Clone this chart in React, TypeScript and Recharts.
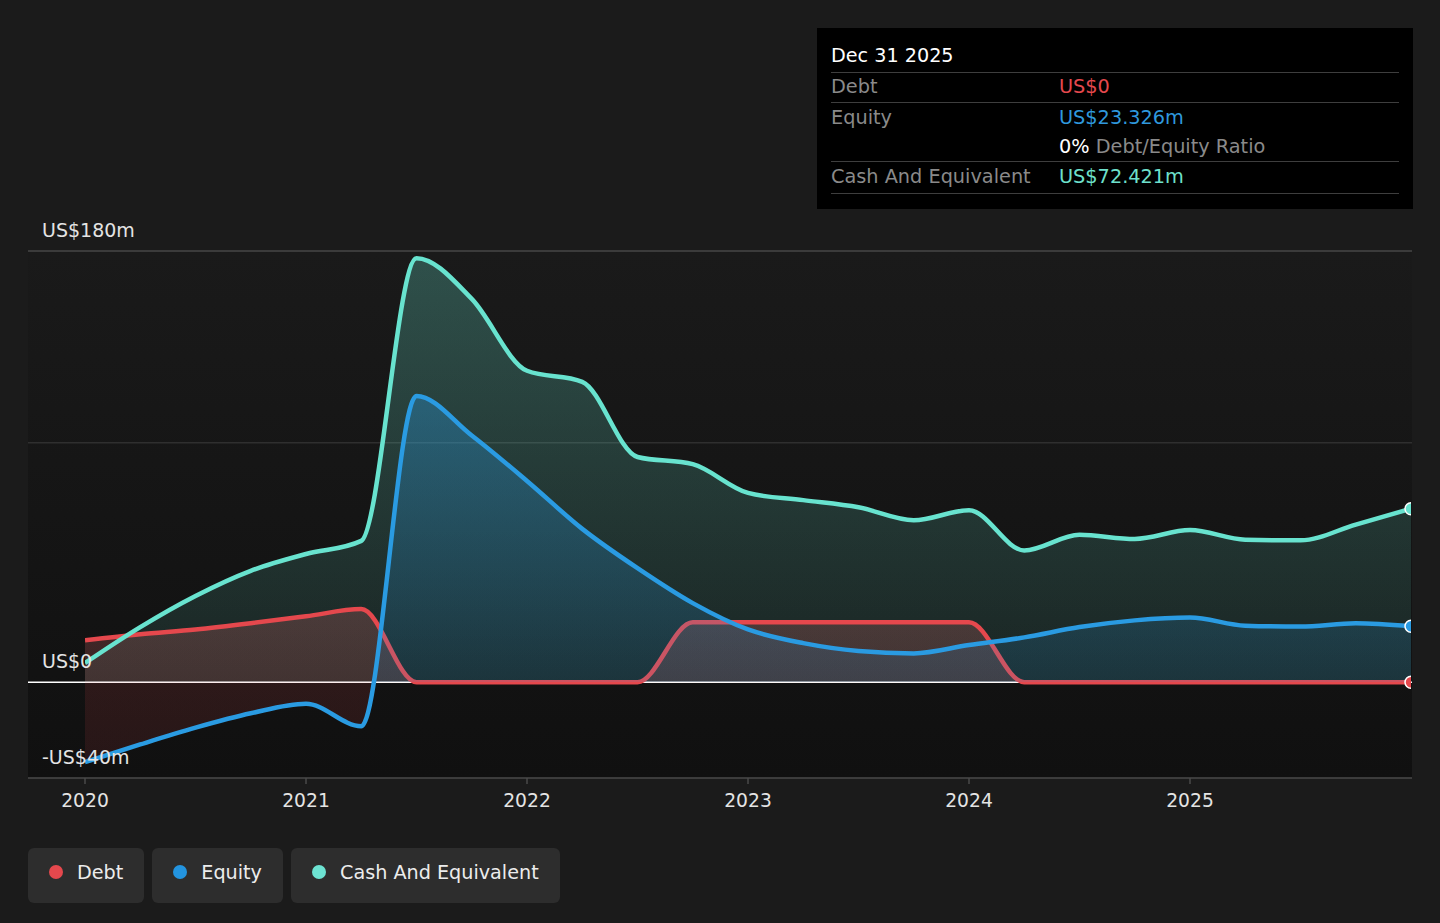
import {
  ComposedChart,
  Area,
  Line,
  XAxis,
  YAxis,
  ReferenceLine,
  CartesianGrid,
} from 'recharts';

// ── Data (US$ m, quarter ends) ────────────────────────────────────────────────
const periods = [
  2020, 2020.25, 2020.5, 2020.75,
  2021, 2021.25, 2021.5, 2021.75,
  2022, 2022.25, 2022.5, 2022.75,
  2023, 2023.25, 2023.5, 2023.75,
  2024, 2024.25, 2024.5, 2024.75,
  2025, 2025.25, 2025.5, 2025.75,
  2026,
];
const debt = [
  17.5, 20, 22, 24.6,
  27.5, 30.5, 0, 0,
  0, 0, 0, 25,
  25, 25, 25, 25,
  25, 0, 0, 0,
  0, 0, 0, 0,
  0,
];
const equity = [
  -33.4, -26, -19, -13,
  -9, -18.4, 119.5, 103,
  84, 64, 47.6, 33,
  22, 16.3, 13, 12,
  15.5, 18.7, 23, 25.8,
  27, 23.6, 23.2, 24.6,
  23.326,
];
const cash = [
  8, 23, 36, 46.5,
  53.5, 59, 177, 160,
  130, 125.4, 94, 91,
  79, 76, 73, 67.6,
  71.8, 55, 61.5, 59.8,
  63.5, 59.5, 59.2, 65.8,
  72.421,
];

const yearTicks = [2020, 2021, 2022, 2023, 2024, 2025];
const labelTicks = [-40, 0, 180];
const gridValues = [100, 180];

const legendItems = [
  { name: 'Debt', color: '#e5484d' },
  { name: 'Equity', color: '#2394df' },
  { name: 'Cash And Equivalent', color: '#6de3d2' },
];

const data = periods.map((t, i) => ({
  t,
  debt: debt[i],
  equity: equity[i],
  cash: cash[i],
}));

// ── Constants ─────────────────────────────────────────────────────────────────
const W = 1440;
const H = 923;
const PLOT_LEFT = 28;
const PLOT_RIGHT = 1412;
const PLOT_TOP = 251;
const PLOT_BOTTOM = 778;
const X_AXIS_H = 30;
const Y_MIN = -40;
const Y_MAX = 180;

const FONT = '"DejaVu Sans", sans-serif';
const BG = '#1b1b1b';
const TEXT = '#e4e4e4';
const MUTED = '#8a8a8a';
const AXIS = '#4a4a4a';
const RED = '#e5484d';
const BLUE = '#2a9be2';
const TEAL = '#68e3cf';
const LINE_W = 4.5;

const ZERO_FRAC = Y_MAX / (Y_MAX - Y_MIN);

const fmt = (v: number) =>
  v === 0 ? 'US$0' : v < 0 ? `-US$${-v}m` : `US$${v}m`;

// ── Pieces ────────────────────────────────────────────────────────────────────
function XTick({ x, y, payload }: any) {
  return (
    <text
      x={x}
      y={y}
      dy={22.5}
      textAnchor="middle"
      fill={TEXT}
      fontSize={18.7}
      fontFamily={FONT}
    >
      {payload.value}
    </text>
  );
}

function YLabel({ viewBox, text }: any) {
  return (
    <text
      x={viewBox.x + 14}
      y={viewBox.y - 14.5}
      fill={TEXT}
      fontSize={19}
      fontFamily={FONT}
    >
      {text}
    </text>
  );
}

function makeEndDot(color: string) {
  return function EndDot({ cx, cy, index }: any) {
    if (index !== data.length - 1 || cx == null || cy == null) {
      return <g key={`d-${index}`} />;
    }
    return (
      <circle
        key={`d-${index}`}
        cx={cx}
        cy={cy}
        r={6}
        fill={color}
        stroke="#ffffff"
        strokeWidth={1.5}
      />
    );
  };
}

function InfoBox() {
  const row = (h: number, border: boolean): React.CSSProperties => ({
    display: 'flex',
    height: h,
    lineHeight: `${h}px`,
    borderBottom: border ? '1.5px solid #3e3e3e' : 'none',
  });
  const label: React.CSSProperties = { width: 228, color: MUTED };
  return (
    <div
      style={{
        position: 'absolute',
        left: 817,
        top: 28,
        width: 596,
        height: 181,
        background: '#000',
        boxSizing: 'border-box',
        padding: '13px 14px',
        fontFamily: FONT,
        fontSize: 19.3,
      }}
    >
      <div
        style={{
          height: 31,
          lineHeight: '30px',
          color: '#fff',
          borderBottom: '1.5px solid #3e3e3e',
          fontSize: 19.2,
        }}
      >
        Dec 31 2025
      </div>
      <div style={row(28.5, true)}>
        <span style={label}>Debt</span>
        <span style={{ color: RED }}>US$0</span>
      </div>
      <div style={row(30, false)}>
        <span style={label}>Equity</span>
        <span style={{ color: '#2f98dd' }}>US$23.326m</span>
      </div>
      <div style={row(28.5, true)}>
        <span style={label} />
        <span style={{ color: '#fff' }}>
          0% <span style={{ color: MUTED }}>Debt/Equity Ratio</span>
        </span>
      </div>
      <div style={row(30.5, true)}>
        <span style={label}>Cash And Equivalent</span>
        <span style={{ color: '#6ee0cc' }}>US$72.421m</span>
      </div>
    </div>
  );
}

function LegendChips() {
  return (
    <div
      style={{
        position: 'absolute',
        left: 28,
        top: 848,
        display: 'flex',
        gap: 8,
        fontFamily: FONT,
        fontSize: 19.2,
      }}
    >
      {legendItems.map(item => (
        <div
          key={item.name}
          style={{
            height: 55,
            boxSizing: 'border-box',
            padding: '0 21px 7px',
            display: 'flex',
            alignItems: 'center',
            background: '#2d2d2d',
            borderRadius: 6,
            color: '#ececec',
          }}
        >
          <span
            style={{
              width: 14,
              height: 14,
              borderRadius: '50%',
              background: item.color,
              marginRight: 14,
            }}
          />
          {item.name}
        </div>
      ))}
    </div>
  );
}

// ── Chart ─────────────────────────────────────────────────────────────────────
export default function App() {
  return (
    <div
      style={{
        position: 'absolute',
        left: 0,
        top: 0,
        width: W,
        height: H,
        background: BG,
        overflow: 'hidden',
      }}
    >
      <ComposedChart
        width={W}
        height={H}
        data={data}
        margin={{
          top: PLOT_TOP,
          right: W - PLOT_RIGHT,
          bottom: H - PLOT_BOTTOM - X_AXIS_H,
          left: PLOT_LEFT,
        }}
      >
        <defs>
          <linearGradient id="plotBg" x1="0" y1="0" x2="0" y2="1">
            <stop offset="0%" stopColor="#1a1a1a" />
            <stop offset="100%" stopColor="#101010" />
          </linearGradient>
          <linearGradient id="cashFill" x1="0" y1="0" x2="0" y2="1">
            <stop offset="0%" stopColor={TEAL} stopOpacity={0.27} />
            <stop offset="100%" stopColor={TEAL} stopOpacity={0.09} />
          </linearGradient>
          <linearGradient
            id="equityFill"
            gradientUnits="userSpaceOnUse"
            x1="0"
            y1={PLOT_TOP}
            x2="0"
            y2={PLOT_BOTTOM}
          >
            <stop offset="0%" stopColor={BLUE} stopOpacity={0.45} />
            <stop offset={ZERO_FRAC} stopColor={BLUE} stopOpacity={0.13} />
            <stop offset={ZERO_FRAC} stopColor={RED} stopOpacity={0.13} />
            <stop offset="100%" stopColor={RED} stopOpacity={0.1} />
          </linearGradient>
          <linearGradient id="debtFill" x1="0" y1="0" x2="0" y2="1">
            <stop offset="0%" stopColor="#e26c6e" stopOpacity={0.23} />
            <stop offset="100%" stopColor="#e26c6e" stopOpacity={0.2} />
          </linearGradient>
        </defs>

        <CartesianGrid horizontal={false} vertical={false} fill="url(#plotBg)" />

        <XAxis
          dataKey="t"
          type="number"
          domain={[2020, 2026]}
          ticks={yearTicks}
          interval={0}
          padding={{ left: 57, right: 1 }}
          height={X_AXIS_H}
          axisLine={false}
          tickLine={{ stroke: AXIS, strokeWidth: 1.5 }}
          tickSize={6}
          tickMargin={0}
          tick={<XTick />}
          allowDataOverflow
        />
        <YAxis hide type="number" domain={[Y_MIN, Y_MAX]} allowDataOverflow />

        {gridValues.map(v => (
          <ReferenceLine
            key={`g-${v}`}
            y={v}
            stroke={v === Y_MAX ? '#474747' : '#2f2f2f'}
            strokeWidth={1.5}
            zIndex={10}
          />
        ))}
        <ReferenceLine y={Y_MIN} stroke={AXIS} strokeWidth={1.5} zIndex={10} />

        <Area
          type="monotone"
          dataKey="cash"
          stroke="none"
          fill="url(#cashFill)"
          fillOpacity={1}
          activeDot={false}
          isAnimationActive={false}
          zIndex={100}
        />
        <Area
          type="monotone"
          dataKey="debt"
          stroke="none"
          fill="url(#debtFill)"
          fillOpacity={1}
          activeDot={false}
          isAnimationActive={false}
          zIndex={101}
        />
        <ReferenceLine y={0} stroke="#ffffff" strokeWidth={1.5} zIndex={102} />
        <Line
          type="monotone"
          dataKey="debt"
          stroke={RED}
          strokeWidth={LINE_W}
          dot={makeEndDot(RED)}
          activeDot={false}
          isAnimationActive={false}
          zIndex={103}
        />
        <Area
          type="monotone"
          dataKey="equity"
          stroke="none"
          fill="url(#equityFill)"
          fillOpacity={1}
          activeDot={false}
          isAnimationActive={false}
          zIndex={104}
        />
        <Line
          type="monotone"
          dataKey="equity"
          stroke={BLUE}
          strokeWidth={LINE_W}
          dot={makeEndDot(BLUE)}
          activeDot={false}
          isAnimationActive={false}
          zIndex={105}
        />
        <Line
          type="monotone"
          dataKey="cash"
          stroke={TEAL}
          strokeWidth={LINE_W}
          dot={makeEndDot(TEAL)}
          activeDot={false}
          isAnimationActive={false}
          zIndex={106}
        />

        {labelTicks.map(v => (
          <ReferenceLine
            key={`l-${v}`}
            y={v}
            stroke="none"
            label={<YLabel text={fmt(v)} />}
            zIndex={2000}
          />
        ))}
      </ComposedChart>

      <InfoBox />
      <LegendChips />
    </div>
  );
}
